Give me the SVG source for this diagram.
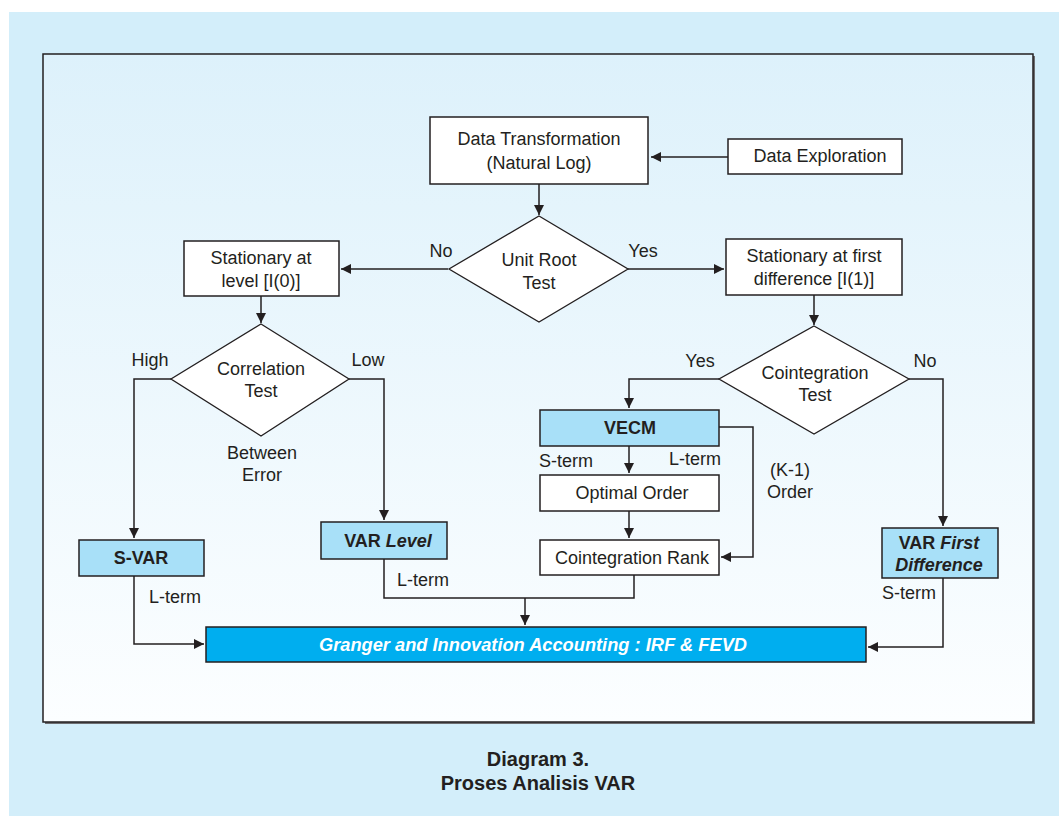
<svg xmlns="http://www.w3.org/2000/svg" width="1059" height="816" viewBox="0 0 1059 816">
<defs>
<linearGradient id="panel" x1="0" y1="0" x2="0" y2="1">
<stop offset="0" stop-color="#ddf1fb"/>
<stop offset="1" stop-color="#fcfeff"/>
</linearGradient>
<marker id="arr" viewBox="0 0 10 10" refX="10" refY="5" markerWidth="10" markerHeight="10" markerUnits="userSpaceOnUse" orient="auto">
<path d="M0,0 L10,5 L0,10 z" fill="#231f20"/>
</marker>
<style>
.box{fill:#ffffff;stroke:#231f20;stroke-width:1.5}
.lb{fill:#a8e0f8;stroke:#231f20;stroke-width:1.5}
.dia{fill:#ffffff;stroke:#231f20;stroke-width:1.3}
.t{font-family:"Liberation Sans",Arial,sans-serif;font-size:18px;fill:#231f20;text-anchor:middle}
.b{font-family:"Liberation Sans",Arial,sans-serif;font-size:18px;font-weight:bold;fill:#231f20;text-anchor:middle}
.c{fill:none;stroke:#231f20;stroke-width:1.5}
.cap{font-family:"Liberation Sans",Arial,sans-serif;font-size:20px;font-weight:bold;fill:#231f20;text-anchor:middle}
</style>
</defs>
<rect x="0" y="0" width="1059" height="816" fill="#ffffff"/>
<rect x="9" y="12" width="1050" height="804" fill="#d3eefa"/>
<rect x="45" y="56" width="990" height="668" fill="#6d6e71"/>
<rect x="43" y="54" width="990" height="668" fill="url(#panel)" stroke="#231f20" stroke-width="1.5"/>

<g id="connectors">
<line class="c" x1="728" y1="157" x2="651" y2="157" marker-end="url(#arr)"/>
<line class="c" x1="539" y1="184" x2="539" y2="215" marker-end="url(#arr)"/>
<line class="c" x1="448" y1="269" x2="341" y2="269" marker-end="url(#arr)"/>
<line class="c" x1="628" y1="269" x2="724" y2="269" marker-end="url(#arr)"/>
<line class="c" x1="261" y1="296" x2="261" y2="323" marker-end="url(#arr)"/>
<line class="c" x1="814" y1="295" x2="814" y2="325" marker-end="url(#arr)"/>
<polyline class="c" points="171,379 134,379 134,538" marker-end="url(#arr)"/>
<polyline class="c" points="349,379 384,379 384,520" marker-end="url(#arr)"/>
<polyline class="c" points="719,379 629,379 629,408" marker-end="url(#arr)"/>
<polyline class="c" points="909,379 943,379 943,526" marker-end="url(#arr)"/>
<line class="c" x1="629" y1="446" x2="629" y2="473" marker-end="url(#arr)"/>
<line class="c" x1="629" y1="511" x2="629" y2="538" marker-end="url(#arr)"/>
<polyline class="c" points="719,427 753,427 753,557 721,557" marker-end="url(#arr)"/>
<polyline class="c" points="134,576 134,644 204,644" marker-end="url(#arr)"/>
<polyline class="c" points="384,559 384,598 634,598 634,575"/>
<line class="c" x1="525" y1="598" x2="525" y2="625" marker-end="url(#arr)"/>
<polyline class="c" points="943,578 943,647 868,647" marker-end="url(#arr)"/>
<text class="t" x="441" y="257">No</text>
<text class="t" x="643" y="257">Yes</text>
<text class="t" x="150" y="366">High</text>
<text class="t" x="368" y="366">Low</text>
<text class="t" x="700" y="367">Yes</text>
<text class="t" x="925" y="367">No</text>
<text class="t" x="566" y="467">S-term</text>
<text class="t" x="695" y="465">L-term</text>
<text class="t" x="790" y="476">(K-1)</text>
<text class="t" x="790" y="498">Order</text>
<text class="t" x="175" y="603">L-term</text>
<text class="t" x="423" y="586">L-term</text>
<text class="t" x="909" y="599">S-term</text>
</g>

<g id="data-transformation">
<rect class="box" x="430" y="117" width="218" height="67"/>
<text class="t" x="539" y="145">Data Transformation</text>
<text class="t" x="539" y="169">(Natural Log)</text>
</g>
<g id="data-exploration">
<rect class="box" x="728" y="139" width="174" height="35"/>
<text class="t" x="820" y="162">Data Exploration</text>
</g>
<g id="unit-root">
<polygon class="dia" points="539,216 628,269 539,322 449,269"/>
<text class="t" x="539" y="266">Unit Root</text>
<text class="t" x="539" y="289">Test</text>
</g>
<g id="stationary-level">
<rect class="box" x="184" y="241" width="155" height="55"/>
<text class="t" x="261" y="264">Stationary at</text>
<text class="t" x="261" y="287">level [I(0)]</text>
</g>
<g id="stationary-first">
<rect class="box" x="726" y="239" width="176" height="56"/>
<text class="t" x="814" y="262">Stationary at first</text>
<text class="t" x="814" y="285">difference [I(1)]</text>
</g>
<g id="correlation">
<polygon class="dia" points="261,324 349,379 261,436 171,379"/>
<text class="t" x="261" y="375">Correlation</text>
<text class="t" x="261" y="397">Test</text>
<text class="t" x="262" y="459">Between</text>
<text class="t" x="262" y="481">Error</text>
</g>
<g id="cointegration">
<polygon class="dia" points="814,326 909,379 814,434 719,379"/>
<text class="t" x="815" y="379">Cointegration</text>
<text class="t" x="815" y="401">Test</text>
</g>
<g id="s-var">
<rect class="lb" x="79" y="540" width="125" height="36"/>
<text class="b" x="141" y="564">S-VAR</text>
</g>
<g id="var-level">
<rect class="lb" x="321" y="522" width="126" height="37"/>
<text class="b" x="388" y="547">VAR <tspan font-style="italic">Level</tspan></text>
</g>
<g id="vecm">
<rect class="lb" x="540" y="410" width="179" height="36"/>
<text class="b" x="630" y="434">VECM</text>
</g>
<g id="optimal-order">
<rect class="box" x="540" y="475" width="179" height="36"/>
<text class="t" x="632" y="499">Optimal Order</text>
</g>
<g id="cointegration-rank">
<rect class="box" x="540" y="540" width="179" height="35"/>
<text class="t" x="632" y="564">Cointegration Rank</text>
</g>
<g id="var-first-difference">
<rect class="lb" x="882" y="528" width="116" height="50"/>
<text class="b" x="939" y="549">VAR <tspan font-style="italic">First</tspan></text>
<text class="b" x="939" y="571" font-style="italic">Difference</text>
</g>
<g id="granger">
<rect x="206" y="627" width="660" height="35" fill="#00aeef" stroke="#231f20" stroke-width="1.5"/>
<text class="b" x="533" y="651" font-style="italic" fill="#ffffff" style="fill:#ffffff" textLength="428" lengthAdjust="spacingAndGlyphs">Granger and Innovation Accounting : IRF &amp; FEVD</text>
</g>
<g id="caption">
<text class="cap" x="538" y="766">Diagram 3.</text>
<text class="cap" x="538" y="790">Proses Analisis VAR</text>
</g>
</svg>
